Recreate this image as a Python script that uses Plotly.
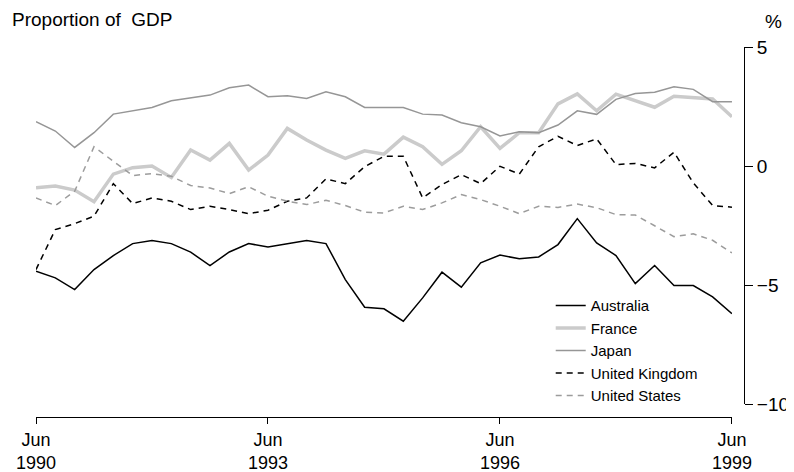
import pandas as pd
import plotly.graph_objects as go

# quarterly, Jun 1990 .. Jun 1999
quarters = pd.period_range("1990Q2", "1999Q2", freq="Q")

australia = [-4.42, -4.70, -5.19, -4.35, -3.76, -3.26, -3.13, -3.26, -3.62, -4.18, -3.61, -3.26, -3.40,
             -3.27, -3.13, -3.26, -4.77, -5.93, -6.00, -6.52, -5.54, -4.46, -5.09, -4.07, -3.74,
             -3.90, -3.82, -3.30, -2.21, -3.23, -3.76, -4.94, -4.18, -5.02, -5.02, -5.50, -6.20]
france = [-0.91, -0.84, -1.01, -1.50, -0.34, -0.07, 0.00, -0.48, 0.67, 0.25, 0.95, -0.17, 0.46,
          1.58, 1.09, 0.67, 0.32, 0.64, 0.50, 1.21, 0.81, 0.07, 0.64, 1.65, 0.74,
          1.40, 1.40, 2.61, 3.03, 2.32, 3.02, 2.76, 2.47, 2.93, 2.89, 2.82, 2.07]
japan = [1.86, 1.47, 0.78, 1.40, 2.18, 2.32, 2.46, 2.74, 2.87, 2.98, 3.29, 3.40, 2.91,
         2.95, 2.84, 3.12, 2.91, 2.46, 2.46, 2.46, 2.18, 2.14, 1.82, 1.65, 1.26,
         1.44, 1.40, 1.72, 2.32, 2.17, 2.80, 3.05, 3.10, 3.33, 3.22, 2.70, 2.70]
uk = [-4.35, -2.67, -2.42, -2.11, -0.74, -1.58, -1.34, -1.48, -1.83, -1.69, -1.83, -2.00, -1.86,
      -1.48, -1.34, -0.54, -0.74, -0.03, 0.41, 0.41, -1.34, -0.78, -0.36, -0.74, -0.01,
      -0.34, 0.81, 1.25, 0.86, 1.14, 0.06, 0.11, -0.08, 0.58, -0.71, -1.66, -1.73]
us = [-1.34, -1.66, -1.06, 0.81, 0.20, -0.40, -0.32, -0.43, -0.82, -0.92, -1.16, -0.87, -1.27,
      -1.48, -1.62, -1.44, -1.66, -1.94, -1.97, -1.69, -1.83, -1.55, -1.20, -1.41, -1.69,
      -2.00, -1.69, -1.74, -1.60, -1.75, -2.04, -2.06, -2.51, -2.97, -2.85, -3.12, -3.65]

x = list(range(len(quarters)))
tick_years = [1990, 1993, 1996, 1999]
tickvals = [i for i, q in enumerate(quarters) if q.quarter == 2 and q.year in tick_years]
ticktext = ["Jun<br>%d" % quarters[i].year for i in tickvals]

FONT = "Liberation Sans, Arial, sans-serif"

series = [
    ("Australia", australia, dict(color="black", width=1.5)),
    ("France", france, dict(color="#cbcbcb", width=3.5)),
    ("Japan", japan, dict(color="#969696", width=1.5)),
    ("United Kingdom", uk, dict(color="black", width=1.5, dash="6px,5px")),
    ("United States", us, dict(color="#9c9c9c", width=1.5, dash="6px,5px")),
]

fig = go.Figure()
for name, vals, line in series:
    fig.add_trace(go.Scatter(x=x, y=vals, name=name, mode="lines", line=line))

# page body has an 8px margin, so the figure is a bit smaller than the window
fig.update_layout(
    width=786, height=464,
    margin=dict(l=28, r=50, t=39, b=55, autoexpand=False),
    plot_bgcolor="white", paper_bgcolor="white",
    font=dict(family=FONT, color="black"),
    showlegend=True,
    legend=dict(x=0.727, y=0.345, xanchor="left", yanchor="top",
                font=dict(size=15), bgcolor="rgba(0,0,0,0)"),
    xaxis=dict(
        domain=[0, 0.983], range=[0, 36], anchor="free", position=0,
        tickvals=tickvals, ticktext=ticktext, tickfont=dict(size=18),
        showline=True, linecolor="black", linewidth=1,
        ticks="outside", ticklen=6, tickcolor="black",
        showgrid=False, zeroline=False, automargin=False,
    ),
    yaxis=dict(
        domain=[0.035, 1], range=[-10, 5], side="right", anchor="free", position=1,
        tickvals=[-10, -5, 0, 5], tickfont=dict(size=19),
        showline=True, linecolor="black", linewidth=1,
        ticks="outside", ticklen=8, tickcolor="black",
        showgrid=False, zeroline=False, automargin=False,
    ),
    annotations=[
        dict(text="Proportion of  GDP", xref="paper", yref="paper",
             x=-0.037, y=1.075, xanchor="left", yanchor="middle",
             showarrow=False, font=dict(size=19)),
        dict(text="%", xref="paper", yref="paper",
             x=1.041, y=1.068, xanchor="center", yanchor="middle",
             showarrow=False, font=dict(size=19)),
    ],
)

fig.write_html("out.html")
